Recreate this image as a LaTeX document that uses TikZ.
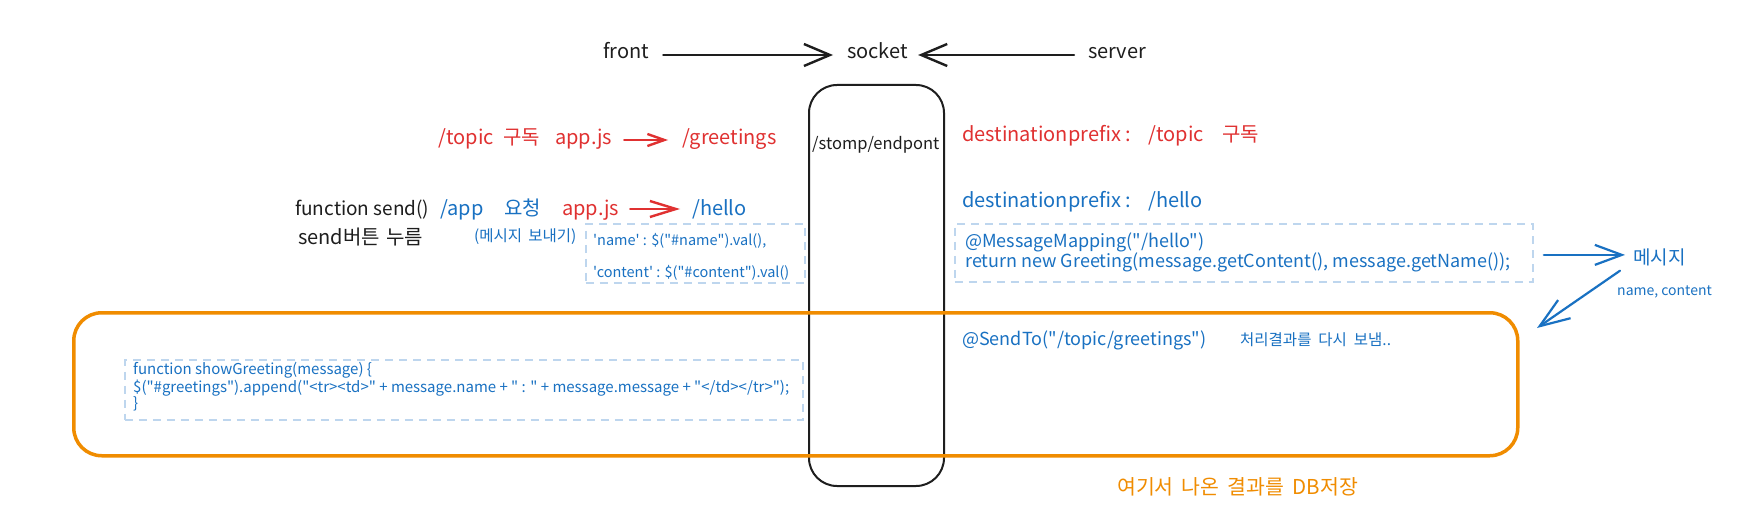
\documentclass[tikz,border=0pt]{standalone}
\usepackage{fontspec}
\setmainfont{Noto Sans CJK KR}[Ligatures=TeXOff]
\newfontfamily\kr{Noto Sans CJK KR}[Scale=1.0]
\usetikzlibrary{arrows.meta}
\definecolor{ink}{RGB}{30,30,30}
\definecolor{xred}{RGB}{224,49,49}
\definecolor{xblue}{RGB}{25,113,194}
\definecolor{xorange}{RGB}{240,140,0}
\definecolor{dashcol}{RGB}{190,214,238}
\begin{document}
\begin{tikzpicture}[x=1pt,y=-1pt,
  lbl/.style={anchor=base west,inner sep=0pt,font=\fontsize{20}{24}\selectfont},
  codetxt/.style={anchor=base west,inner sep=0pt,text=xblue,font=\fontsize{18}{20}\selectfont},
  smallcode/.style={anchor=base west,inner sep=0pt,text=xblue,font=\fontsize{14.5}{16}\selectfont},
  greetcode/.style={anchor=base west,inner sep=0pt,text=xblue,font=\fontsize{15}{17}\selectfont},
  dbox/.style={draw=dashcol,line width=1.8pt,dash pattern=on 8pt off 6pt,anchor=north west,inner sep=0pt},
  karrow/.style={draw=ink,line width=2.4pt,line cap=round,-{Straight Barb[length=26pt,width=22pt]}},
  rarrowa/.style={draw=xred,line width=2.4pt,line cap=round,-{Straight Barb[length=17pt,width=12pt]}},
  rarrowb/.style={draw=xred,line width=2.4pt,line cap=round,-{Straight Barb[length=26pt,width=16pt]}},
  barrow/.style={draw=xblue,line width=2.2pt,line cap=round,-{Straight Barb[length=27pt,width=20pt]}},
  darrow/.style={draw=xblue,line width=2.2pt,line cap=round,-{Straight Barb[length=30pt,width=22pt]}},
]
\fill[white] (0,0) rectangle (1755,521);
\useasboundingbox (0,0) rectangle (1755,521);

% top row
\node[lbl,text=ink] (front) at (603,59) {front};
\node[lbl,text=ink] (socket) at (847,59) {socket};
\node[lbl,text=ink] (server) at (1088,59) {server};
\draw[karrow,shorten <=14pt,shorten >=14pt] ([yshift=4pt]front.base east) -- ([yshift=4pt]socket.base west);
\draw[karrow,shorten <=14pt,shorten >=10pt] ([yshift=4pt]server.base west) -- ([yshift=4pt]socket.base east);

% stomp endpoint box
\node[draw=ink,line width=2pt,rounded corners=28pt,anchor=north west,inner sep=0pt,
      minimum width=135pt,minimum height=401pt] (stomp) at (808,84) {};
\node[lbl,text=ink,font=\fontsize{16.5}{20}\selectfont] (ep) at (812,150) {/stomp/endpont};

% red subscribe row (front)
\node[lbl,text=xred] (topicL) at (438,145) {/topic};
\node[lbl,text=xred] (subL) at (503,145) {\kr 구독};
\node[lbl,text=xred] (appjsA) at (555,145) {app.js};
\node[lbl,text=xred] (greet) at (682,145) {/greetings};
\draw[rarrowa,shorten <=12pt,shorten >=14pt] ([yshift=5pt]appjsA.base east) -- ([yshift=5pt]greet.base west);

% send row
\node[lbl,text=ink,font=\fontsize{19}{24}\selectfont] (send) at (295,216) {function send()};
\node[lbl,text=xblue] (app) at (440,216) {/app};
\node[lbl,text=xblue] (req) at (504,216) {\kr 요청};
\node[lbl,text=xred] (appjsB) at (562,216) {app.js};
\node[lbl,text=xblue] (hello) at (692,216) {/hello};
\draw[rarrowb,shorten <=11pt,shorten >=12pt] ([yshift=7pt]appjsB.base east) -- ([yshift=7pt]hello.base west);
\node[lbl,text=ink] (btn) at (298,245) {send{\kr 버튼\hspace{0.3em}누름}};
\node[lbl,text=xblue,font=\fontsize{15.5}{18}\selectfont] (msgsend) at (474,242) {(메시지\hspace{0.4em}보내기)};

\node[dbox,minimum width=219pt,minimum height=59pt] (nbox) at (585,223) {};
\node[smallcode] (nline) at (593,246) {'name' : \$("\#name").val(),};
\node[smallcode] (cline) at (593,277) {'content' : \$("\#content").val()};

% server side
\node[lbl,text=xred] (dpa) at (962,142) {destinationprefix :};
\node[lbl,text=xred] (dpta) at (1148,142) {/topic};
\node[lbl,text=xred] (dpka) at (1222,142) {\kr 구독};
\node[lbl,text=xblue] (dpb) at (962,208) {destinationprefix :};
\node[lbl,text=xblue] (dphb) at (1148,208) {/hello};

\node[dbox,minimum width=578pt,minimum height=58pt] (hbox) at (954,223) {};
\node[codetxt] (mm) at (965,248) {@MessageMapping("/hello")};
\node[codetxt] (ret) at (965,268) {return new Greeting(message.getContent(), message.getName());};

\node[lbl,text=xblue,font=\fontsize{19}{22}\selectfont] (msg) at (1633,265) {메시지};
\node[smallcode,font=\fontsize{14}{16}\selectfont] (nc) at (1617,295) {name, content};
\coordinate (hb) at ([yshift=-2pt]hbox.east);
\draw[barrow,shorten <=10pt,shorten >=8pt] (hb) -- (msg.west |- hb);

% orange result box
\node[draw=xorange,line width=3.5pt,rounded corners=28pt,anchor=north west,inner sep=0pt,
      minimum width=1444pt,minimum height=143pt] (obox) at (72,311) {};
\coordinate (dtip) at (1537,328);
\draw[darrow] ([xshift=-13pt,yshift=-4pt]msg.south west) -- (dtip);

\node[lbl,text=xblue,font=\fontsize{18}{20}\selectfont] (sendto) at (962,345) {@SendTo("/topic/greetings")};
\node[lbl,text=xblue,font=\fontsize{15.5}{18}\selectfont] (again) at (1240,345) {처리결과를\hspace{0.45em}다시\hspace{0.45em}보냄..};

\node[dbox,minimum width=678pt,minimum height=60pt] (gbox) at (124,359) {};
\node[greetcode] (g1) at (133,374) {function showGreeting(message) \{};
\node[greetcode] (g2) at (133,392) {\$("\#greetings").append("<tr><td>" + message.name + " : " + message.message + "</td></tr>");};
\node[greetcode] (g3) at (133,408) {\}};

\node[lbl,text=xorange,font=\fontsize{20.5}{24}\selectfont] (db) at (1117,494) {여기서\hspace{0.4em}나온\hspace{0.4em}결과를\hspace{0.4em}DB저장};
\end{tikzpicture}
\end{document}
